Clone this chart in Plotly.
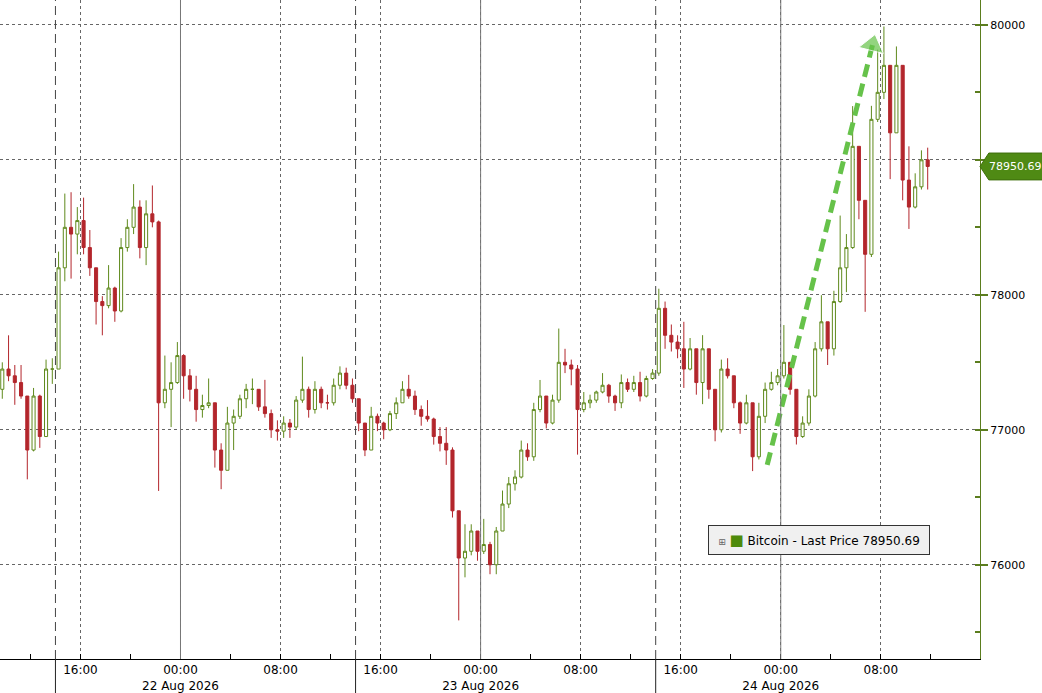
import numpy as np
import pandas as pd
import plotly.graph_objects as go

# 30-minute candles, Bitcoin last price
first_open = 77300
highs = [77500, 77700, 77480, 77480, 77250, 77310, 77260, 77520, 77530, 78320,
         78750, 78760, 78650, 78720, 78480, 78200, 77990, 78220, 78060, 78420,
         78560, 78820, 78700, 78700, 78810, 78550, 77550, 77500, 77650, 77560,
         77450, 77400, 77260, 77380, 77200, 76900, 77170, 77150, 77260, 77340,
         77380, 77300, 77370, 77150, 77070, 77100, 77080, 77250, 77542, 77320,
         77360, 77320, 77260, 77380, 77470, 77460, 77380, 77230, 77050, 77170,
         77120, 77060, 77140, 77240, 77360, 77407, 77290, 77180, 77220, 77090,
         77020, 77020, 76870, 76400, 76300, 76300, 76250, 76340, 76170, 76280,
         76550, 76650, 76700, 76920, 76900, 77200, 77369, 77250, 77260, 77750,
         77600, 77520, 77480, 77280, 77260, 77290, 77420, 77340, 77260, 77410,
         77380, 77400, 77430, 77400, 77450, 78045, 77950, 77780, 77700, 77800,
         77680, 77600, 77701, 77600, 77300, 77520, 77530, 77400, 77210, 77260,
         77200, 77200, 77350, 77430, 77450, 77776, 77500, 77300, 77100, 77300,
         77650, 77997, 77800, 78030, 78587, 78450, 79398, 79100, 78700, 79400,
         79816, 79988, 79700, 79840, 79700, 79100, 78900, 79070, 79090]
lows = [77230, 77360, 77185, 77230, 76633, 76840, 76866, 76950, 77340, 77450,
        78100, 78120, 78300, 78300, 78140, 77780, 77700, 77900, 77800, 77870,
        78320, 78450, 78270, 78220, 78500, 76547, 77160, 77020, 77340, 77230,
        77210, 77060, 77090, 77160, 76720, 76560, 76700, 76850, 77080, 77160,
        77190, 77140, 77090, 76940, 76920, 76940, 76940, 77000, 77200, 77090,
        77120, 77160, 77150, 77180, 77300, 77300, 77200, 76990, 76805, 76850,
        76990, 76930, 76990, 77080, 77200, 77230, 77110, 77030, 77060, 76890,
        76840, 76740, 76350, 75588, 75907, 76070, 76030, 76080, 75930, 75930,
        76250, 76420, 76550, 76640, 76770, 76770, 77130, 77010, 77040, 77200,
        77420, 77330, 76816, 77130, 77160, 77200, 77270, 77200, 77140, 77160,
        77280, 77280, 77210, 77240, 77370, 77400, 77600, 77580, 77530, 77310,
        77440, 77260, 77190, 77230, 76915, 76980, 77380, 77160, 76970, 77040,
        76694, 76780, 77050, 77290, 77330, 77380, 77260, 76891, 76940, 77030,
        77240, 77580, 77480, 77550, 77940, 78020, 78340, 78560, 77874, 78280,
        79280, 79450, 78857, 79200, 78700, 78488, 78640, 78780, 78780]
closes = [77450, 77400, 77350, 77250, 76850, 77250, 76950, 77450, 77450, 78200,
          78500, 78450, 78550, 78350, 78200, 77950, 77920, 78050, 77880, 78350,
          78500, 78650, 78350, 78600, 78540, 77200, 77300, 77350, 77550, 77400,
          77300, 77150, 77180, 77200, 76850, 76700, 77050, 77100, 77230, 77300,
          77300, 77170, 77120, 77000, 76990, 77050, 77020, 77220, 77300, 77150,
          77300, 77200, 77200, 77330, 77420, 77330, 77230, 77050, 76850, 77100,
          77050, 77000, 77120, 77200, 77300, 77250, 77150, 77100, 77080, 76950,
          76900, 76850, 76400, 76050, 76100, 76250, 76100, 76150, 76000, 76250,
          76450, 76600, 76650, 76850, 76800, 77150, 77250, 77050, 77220, 77500,
          77480, 77450, 77150, 77200, 77220, 77280, 77330, 77250, 77200, 77350,
          77300, 77350, 77250, 77380, 77420, 77900, 77700, 77650, 77600, 77450,
          77600, 77350, 77600, 77300, 77000, 77450, 77400, 77200, 77050, 77200,
          76800, 77100, 77300, 77350, 77400, 77500, 77300, 76950, 77050, 77250,
          77600, 77800, 77600, 77950, 78200, 78350, 79100, 78700, 78300, 79300,
          79500, 79700, 79200, 79700, 78850, 78650, 78800, 79000, 78950.69]
last_price = 78950.69

times = pd.date_range("2026-08-21 09:45", periods=len(closes), freq="30min")
opens = [first_open] + closes[:-1]

x_range = [pd.Timestamp("2026-08-21 09:34"), pd.Timestamp("2026-08-24 15:56")]
y_range = [75302, 80184]

label_times = pd.date_range("2026-08-21 16:00", "2026-08-24 08:00", freq="8h")
label_text = [t.strftime("%H:%M") + ("<br>" + t.strftime("%d %b %Y") if t.hour == 0 else "")
              for t in label_times]
midnights = [t for t in label_times if t.hour == 0]
session_breaks = pd.to_datetime(["2026-08-21 14:00", "2026-08-22 14:00", "2026-08-23 14:00"])

# hand-drawn trend arrow
arrow_x = [pd.Timestamp("2026-08-23 22:55"), pd.Timestamp("2026-08-24 07:20")]
arrow_y = [76740, 79850]

UP = "#5f8a1c"
DOWN = "#b3262c"
OLIVE = "#5b7d1e"
FONT = "DejaVu Sans"

fig = go.Figure()
fig.add_trace(go.Candlestick(
    x=times, open=opens, high=highs, low=lows, close=closes,
    increasing=dict(line=dict(color=UP, width=1), fillcolor="white"),
    decreasing=dict(line=dict(color=DOWN, width=1), fillcolor=DOWN),
    whiskerwidth=0, showlegend=False,
))
fig.add_trace(go.Scatter(
    x=arrow_x, y=arrow_y, mode="lines+markers",
    line=dict(color="#66c24a", width=5, dash="13px,7px"),
    marker=dict(symbol=["circle", "triangle-up"], size=[11, 22], color="#66c24a",
                angleref="previous"),
    showlegend=False, hoverinfo="skip",
))

shapes = []
for t in midnights:
    shapes.append(dict(type="line", xref="x", yref="paper", x0=t, x1=t, y0=0, y1=1,
                       line=dict(color="#777", width=1)))
for t in session_breaks:
    shapes.append(dict(type="line", xref="x", yref="paper", x0=t, x1=t, y0=0, y1=1,
                       line=dict(color="#444", width=1, dash="9px,5px")))
    shapes.append(dict(type="line", xref="x", yref="paper", x0=t, x1=t, y0=-0.06, y1=0,
                       line=dict(color="#222", width=1)))

# last price tag on the right axis
yp = (last_price - y_range[0]) / (y_range[1] - y_range[0])
h = 13.5 / 662
shapes.append(dict(type="path", xref="paper", yref="paper", layer="above",
                   path=f"M 1.0 {yp} L 1.009 {yp + h} L 1.08 {yp + h} L 1.08 {yp - h} L 1.009 {yp - h} Z",
                   fillcolor="#4f8a14", line=dict(color="#3d6e0c", width=1)))

fig.update_layout(
    width=1042, height=693,
    margin=dict(l=0, r=62, t=0, b=31),
    paper_bgcolor="white", plot_bgcolor="white",
    font=dict(family=FONT, size=12, color="black"),
    shapes=shapes,
    annotations=[
        dict(xref="paper", yref="paper", x=987 / 980, y=yp, xanchor="left", yanchor="middle",
             text=f"{last_price:.2f}", showarrow=False,
             font=dict(family=FONT, size=11, color="white")),
        dict(xref="paper", yref="paper", x=819 / 980, y=1 - 542 / 662,
             xanchor="center", yanchor="middle", showarrow=False,
             text="<span style='font-size:9px;color:#666'>⊞</span> "
                  "<span style='font-size:15px;color:#4e8a0a'>■</span> "
                  f"Bitcoin - Last Price {last_price:.2f}",
             bgcolor="#f0f0f0", bordercolor="#333", borderwidth=1, borderpad=5,
             width=210, font=dict(family=FONT, size=12, color="black")),
    ],
)

fig.update_xaxes(
    type="date", range=x_range, rangeslider=dict(visible=False),
    tickvals=label_times, ticktext=label_text, ticks="",
    showgrid=True, gridcolor="#666", griddash="dot", gridwidth=1,
    showline=True, linecolor="black", linewidth=1,
    minor=dict(dtick=4 * 3600 * 1000, tick0="2026-08-21 00:00", ticks="inside",
               ticklen=5, tickcolor="black", showgrid=False),
    tickfont=dict(family=FONT, size=12, color="black"),
    zeroline=False,
)
fig.update_yaxes(
    side="right", range=y_range, dtick=1000, tick0=0, tickformat="d",
    showgrid=True, gridcolor="#666", griddash="dot", gridwidth=1,
    showline=True, linecolor=OLIVE, linewidth=1,
    ticks="outside", ticklen=7, tickwidth=2, tickcolor=OLIVE,
    minor=dict(dtick=500, ticks="inside", ticklen=5, tickcolor=OLIVE, showgrid=False),
    tickfont=dict(family=FONT, size=11, color="black"),
    zeroline=False,
)

fig.write_html("out.html", config={"displayModeBar": False},
               post_script="document.body.style.margin='0';")
